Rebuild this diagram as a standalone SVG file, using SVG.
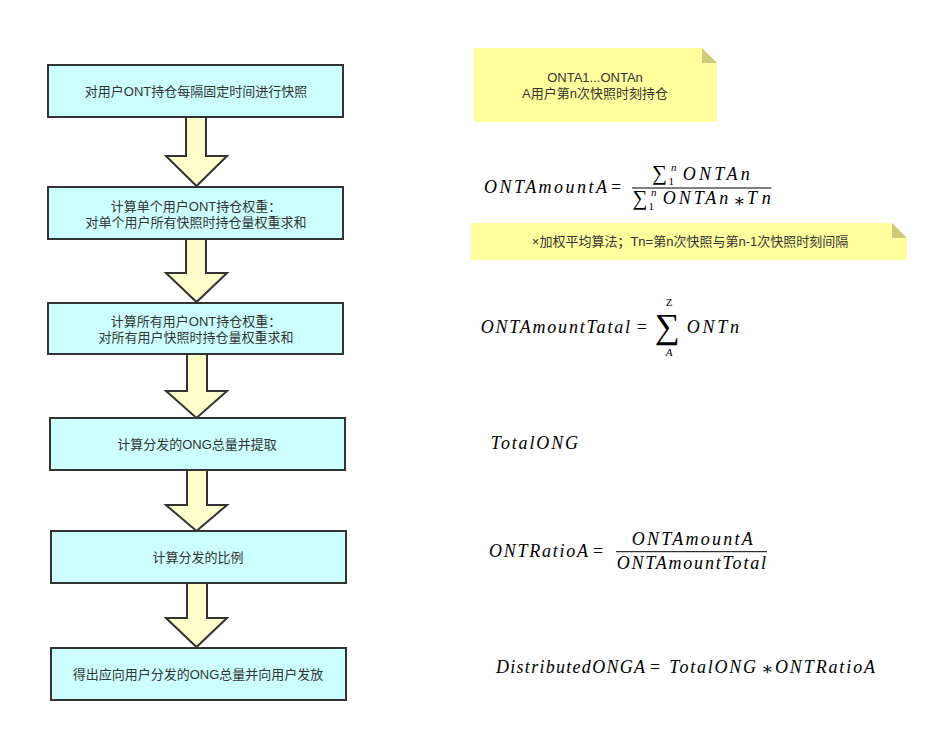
<svg xmlns="http://www.w3.org/2000/svg" width="940" height="732" viewBox="0 0 940 732">
<style>
.box{fill:#ccffff;stroke:#333;stroke-width:2}
.arr{fill:#ffffcc;stroke:#333;stroke-width:2;stroke-linejoin:miter}
.note{fill:#ffff9e}
.fold{fill:#cdcb7a}
.t{font-family:"Liberation Sans","Noto Sans CJK SC",sans-serif;font-size:13px;fill:#333;text-anchor:middle}
.m{font-family:"Liberation Serif","DejaVu Serif",serif;font-style:italic;font-size:18px;fill:#000}
.r{font-family:"Liberation Serif","DejaVu Serif",serif;font-size:18px;fill:#000}
.s{font-family:"Liberation Serif","DejaVu Serif",serif;font-style:italic;font-size:11px;fill:#000}
.sr{font-family:"Liberation Serif","DejaVu Serif",serif;font-size:11px;fill:#000}
.bar{stroke:#000;stroke-width:1}
</style>
<rect width="940" height="732" fill="#fff"/>
<g id="connectors">
<polygon class="arr" points="186,117 206,117 206,156 227,156 196.5,186 166,156 186,156"/>
<polygon class="arr" points="186,239 206,239 206,273 227,273 196.5,302 166,273 186,273"/>
<polygon class="arr" points="187,354 207,354 207,391 227,391 196.5,418 166,391 187,391"/>
<polygon class="arr" points="187,470 207,470 207,505 227,505 196.5,531 166,505 187,505"/>
<polygon class="arr" points="187,583 207,583 207,618 227,618 196.5,647 166,618 187,618"/>
</g>
<g id="n1"><rect class="box" x="48" y="65" width="295" height="52"/><text class="t" x="196" y="96">对用户ONT持仓每隔固定时间进行快照</text></g>
<g id="n2"><rect class="box" x="48" y="187" width="295" height="52"/><text class="t" x="196" y="211">计算单个用户ONT持仓权重：</text><text class="t" x="196" y="227">对单个用户所有快照时持仓量权重求和</text></g>
<g id="n3"><rect class="box" x="48" y="303" width="295" height="51"/><text class="t" x="196" y="326">计算所有用户ONT持仓权重：</text><text class="t" x="196" y="342">对所有用户快照时持仓量权重求和</text></g>
<g id="n4"><rect class="box" x="50" y="418" width="295" height="52"/><text class="t" x="197" y="449">计算分发的ONG总量并提取</text></g>
<g id="n5"><rect class="box" x="51" y="531" width="295" height="52"/><text class="t" x="198" y="562">计算分发的比例</text></g>
<g id="n6"><rect class="box" x="51" y="648" width="295" height="52"/><text class="t" x="198" y="679">得出应向用户分发的ONG总量并向用户发放</text></g>
<g id="note1"><polygon class="note" points="474,48 702,48 717,63 717,122 474,122"/><polygon class="fold" points="702,48 717,63 702,63"/><text class="t" x="595" y="82">ONTA1...ONTAn</text><text class="t" x="595" y="98">A用户第n次快照时刻持仓</text></g>
<g id="note2"><polygon class="note" points="471,223 892,223 907,238 907,260 471,260"/><polygon class="fold" points="892,223 907,238 892,238"/><text class="t" x="690" y="246">×加权平均算法；Tn=第n次快照与第n-1次快照时刻间隔</text></g>
<g id="f1">
<text class="m" x="484" y="192.5" textLength="123" lengthAdjust="spacing">ONTAmountA</text>
<text class="r" x="611" y="192.5">=</text>
<line class="bar" x1="632" y1="188" x2="771.5" y2="188"/>
<text class="r" x="652" y="180" style="font-size:21px">∑</text>
<text class="s" x="671" y="171">n</text>
<text class="sr" x="668.5" y="185">1</text>
<text class="m" x="682.7" y="179.5" textLength="67" lengthAdjust="spacing">ONTAn</text>
<text class="r" x="632.5" y="204.5" style="font-size:21px">∑</text>
<text class="s" x="651" y="196">n</text>
<text class="sr" x="648.5" y="209.5">1</text>
<text class="m" x="662.7" y="204" textLength="65.6" lengthAdjust="spacing">ONTAn</text>
<text class="r" x="733" y="207">∗</text>
<text class="m" x="747" y="204" textLength="23.7" lengthAdjust="spacing">Tn</text>
</g>
<g id="f2">
<text class="m" x="480.7" y="333" textLength="149.3" lengthAdjust="spacing">ONTAmountTatal</text>
<text class="r" x="636.7" y="333">=</text>
<text class="r" x="655" y="338" style="font-size:35px">∑</text>
<text class="sr" x="669" y="306" style="text-anchor:middle">Z</text>
<text class="s" x="669" y="356" style="text-anchor:middle">A</text>
<text class="m" x="686.7" y="333" textLength="52.3" lengthAdjust="spacing">ONTn</text>
</g>
<g id="f3"><text class="m" x="490.7" y="449" textLength="87.3" lengthAdjust="spacing">TotalONG</text></g>
<g id="f4">
<text class="m" x="489" y="556.7" textLength="99" lengthAdjust="spacing">ONTRatioA</text>
<text class="r" x="593" y="556.7">=</text>
<line class="bar" x1="616" y1="551.7" x2="767" y2="551.7"/>
<text class="m" x="631.7" y="545" textLength="121" lengthAdjust="spacing">ONTAmountA</text>
<text class="m" x="616.7" y="569.3" textLength="149.3" lengthAdjust="spacing">ONTAmountTotal</text>
</g>
<g id="f5">
<text class="m" x="496" y="672.7" textLength="149" lengthAdjust="spacing">DistributedONGA</text>
<text class="r" x="650" y="672.7">=</text>
<text class="m" x="669.3" y="672.7" textLength="86.7" lengthAdjust="spacing">TotalONG</text>
<text class="r" x="761" y="675">∗</text>
<text class="m" x="775" y="672.7" textLength="100" lengthAdjust="spacing">ONTRatioA</text>
</g>
</svg>
